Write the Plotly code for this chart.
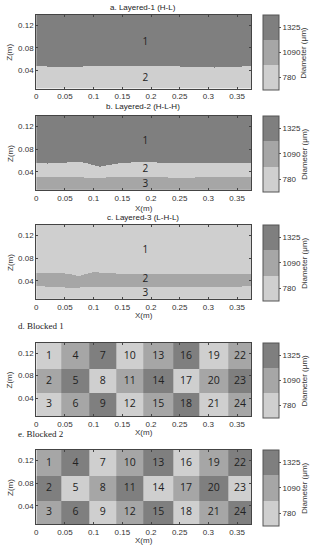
import numpy as np
import plotly.graph_objects as go

W, H = 314, 550

# ---------------- data ----------------
level_labels = ['780', '1090', '1325']          # 0 = light, 1 = mid, 2 = dark
level_colors = ['#cfcfcf', '#a6a6a6', '#7f7f7f']

x_tickvals = [0, 0.05, 0.1, 0.15, 0.2, 0.25, 0.3, 0.35]
x_ticktext = ['0', '0.05', '0.1', '0.15', '0.2', '0.25', '0.3', '0.35']
z_tickvals = [0.04, 0.08, 0.12]
z_ticktext = ['0.04', '0.08', '0.12']
x_range = [0, 0.375]
z_range = [0.008, 0.138]

titles = ['a. Layered-1 (H-L)', 'b. Layered-2 (H-L-H)', 'c. Layered-3 (L-H-L)',
          'd. Blocked 1', 'e. Blocked 2']

# Layered-1: layers top->bottom, one interface
l1_x = [0, 0.02, 0.05, 0.08, 0.1, 0.13, 0.16, 0.19, 0.22, 0.25, 0.28, 0.31, 0.34, 0.375]
l1_b1 = [0.0475, 0.047, 0.0455, 0.047, 0.048, 0.0475, 0.047, 0.0475, 0.048, 0.047, 0.047, 0.0455, 0.0465, 0.0475]
l1_levels = [2, 0]
l1_label_z = [0.090, 0.025]

# Layered-2
l2_x = [0, 0.02, 0.04, 0.06, 0.075, 0.09, 0.11, 0.13, 0.15, 0.18, 0.21, 0.25, 0.3, 0.34, 0.375]
l2_b1 = [0.055, 0.054, 0.055, 0.0565, 0.0575, 0.054, 0.0485, 0.052, 0.0555, 0.0565, 0.056, 0.055, 0.055, 0.0545, 0.0545]
l2_b2 = [0.030, 0.031, 0.030, 0.030, 0.030, 0.029, 0.029, 0.030, 0.030, 0.030, 0.030, 0.029, 0.030, 0.030, 0.031]
l2_levels = [2, 0, 1]
l2_label_z = [0.094, 0.0445, 0.0175]

# Layered-3
l3_x = [0, 0.03, 0.05, 0.065, 0.075, 0.085, 0.1, 0.12, 0.15, 0.2, 0.25, 0.3, 0.34, 0.375]
l3_b1 = [0.053, 0.053, 0.0525, 0.050, 0.048, 0.0515, 0.0545, 0.0535, 0.052, 0.052, 0.0525, 0.052, 0.0525, 0.0525]
l3_b2 = [0.030, 0.029, 0.028, 0.028, 0.028, 0.029, 0.029, 0.029, 0.029, 0.0285, 0.029, 0.029, 0.029, 0.030]
l3_levels = [0, 1, 0]
l3_label_z = [0.093, 0.0415, 0.0185]

layer_label_x = 0.19

# Blocked panels: 3 rows (top->bottom) x 8 columns, numbered column-major
block_x_edges = [0, 0.044, 0.093, 0.139, 0.187, 0.238, 0.284, 0.335, 0.375]
block_z_edges = [0.008, 0.049, 0.092, 0.138]
blocked1 = [  # rows top, middle, bottom
    [0, 1, 2, 0, 1, 2, 0, 1],
    [1, 2, 0, 1, 2, 0, 1, 2],
    [0, 1, 2, 0, 1, 2, 0, 1],
]
blocked2 = [
    [1, 2, 0, 1, 2, 0, 1, 2],
    [2, 0, 1, 2, 0, 1, 2, 0],
    [1, 2, 0, 1, 2, 0, 1, 2],
]

# ---------------- layout geometry (pixels) ----------------
plot_left, plot_right = 34.5, 251
panel_tops = [15, 116, 225, 343, 450]
panel_bots = [88.5, 190, 299, 416, 524]
cb_left, cb_thick = 263, 16

def py(p):
    return 1 - p / H

def px(p):
    return p / W

colorscale = [[0, level_colors[0]], [1/3, level_colors[0]],
              [1/3, level_colors[1]], [2/3, level_colors[1]],
              [2/3, level_colors[2]], [1, level_colors[2]]]

fig = go.Figure()

def layered_grid(bx, bounds, levels):
    xs = np.linspace(x_range[0], x_range[1], 376)
    zs = np.linspace(z_range[0], z_range[1], 261)
    bvals = [np.interp(xs, bx, b) for b in bounds]
    Z = np.full((len(zs), len(xs)), levels[-1], dtype=float)
    for i in range(len(bounds) - 1, -1, -1):
        mask = zs[:, None] >= bvals[i][None, :]
        Z[mask] = levels[i]
    return xs, zs, Z

layered = [
    (l1_x, [l1_b1], l1_levels, l1_label_z),
    (l2_x, [l2_b1, l2_b2], l2_levels, l2_label_z),
    (l3_x, [l3_b1, l3_b2], l3_levels, l3_label_z),
]

tick_font = dict(family='Liberation Sans, Arial, sans-serif', size=8, color='#333')
num_font = dict(family='Open Sans, sans-serif', size=10, color='#222')

def colorbar_for(k):
    top, bot = panel_tops[k], panel_bots[k] + 1.5
    return dict(
        x=px(cb_left), xanchor='left', xpad=0,
        y=py((top + bot) / 2), yanchor='middle', ypad=0,
        len=(bot - top) / H, lenmode='fraction',
        thickness=cb_thick, thicknessmode='pixels',
        outlinewidth=1, outlinecolor='#555',
        tickvals=[0, 1, 2], ticktext=level_labels,
        ticks='outside', ticklen=2, tickcolor='#555',
        tickfont=tick_font,
    )

for k in range(5):
    xa = 'x' if k == 0 else f'x{k+1}'
    ya = 'y' if k == 0 else f'y{k+1}'
    if k < 3:
        bx, bounds, levels, lab_z = layered[k]
        xs, zs, Z = layered_grid(bx, bounds, levels)
        fig.add_trace(go.Heatmap(x=xs, y=zs, z=Z, colorscale=colorscale, zmin=-0.5, zmax=2.5,
                                 xaxis=xa, yaxis=ya, colorbar=colorbar_for(k), hoverinfo='skip'))
        fig.add_trace(go.Scatter(x=[layer_label_x] * len(lab_z), y=lab_z, mode='text',
                                 text=[str(i + 1) for i in range(len(lab_z))],
                                 textfont=num_font, xaxis=xa, yaxis=ya,
                                 showlegend=False, hoverinfo='skip'))
    else:
        blk = blocked1 if k == 3 else blocked2
        zgrid = blk[::-1]
        fig.add_trace(go.Heatmap(x=block_x_edges, y=block_z_edges, z=zgrid,
                                 colorscale=colorscale, zmin=-0.5, zmax=2.5,
                                 xaxis=xa, yaxis=ya, colorbar=colorbar_for(k), hoverinfo='skip'))
        tx, tz, tt = [], [], []
        n = 1
        for c in range(8):
            for r in range(3):
                tx.append((block_x_edges[c] + block_x_edges[c + 1]) / 2)
                tz.append((block_z_edges[2 - r] + block_z_edges[3 - r]) / 2)
                tt.append(str(n))
                n += 1
        fig.add_trace(go.Scatter(x=tx, y=tz, mode='text', text=tt,
                                 textfont=dict(num_font, size=10.5),
                                 xaxis=xa, yaxis=ya, showlegend=False, hoverinfo='skip'))

    axis_common = dict(showline=True, linecolor='#444', linewidth=1, mirror='ticks',
                       ticks='inside', ticklen=2, tickcolor='#444', showgrid=False,
                       zeroline=False, tickfont=tick_font, fixedrange=True)
    fig.layout[('xaxis' if k == 0 else f'xaxis{k+1}')] = dict(
        domain=[px(plot_left), px(plot_right)], range=x_range, anchor=ya,
        tickvals=x_tickvals, ticktext=x_ticktext, **axis_common)
    fig.layout[('yaxis' if k == 0 else f'yaxis{k+1}')] = dict(
        domain=[py(panel_bots[k]), py(panel_tops[k])], range=z_range, anchor=xa,
        tickvals=z_tickvals, ticktext=z_ticktext, **axis_common)

annotations = []
label_font = dict(family='Liberation Sans, Arial, sans-serif', size=8, color='#333')
title_font_sans = dict(family='Liberation Sans, Arial, sans-serif', size=8, color='#222')
title_font_serif = dict(family='Liberation Serif, Times New Roman, serif', size=9, color='#222')
title_y = [8, 106.5, 217, 326, 434]
xlab_off = [16, 18, 16, 16, 16]
for k in range(5):
    mid = (panel_tops[k] + panel_bots[k]) / 2
    annotations.append(dict(x=px(8), y=py(mid), xref='paper', yref='paper', text='Z(m)',
                            textangle=-90, showarrow=False, font=label_font,
                            xanchor='center', yanchor='middle'))
    annotations.append(dict(x=px(304), y=py(mid + 1), xref='paper', yref='paper',
                            text='Diameter (μm)', textangle=-90, showarrow=False,
                            font=label_font, xanchor='center', yanchor='middle'))
    if k > 0:
        annotations.append(dict(x=px((plot_left + plot_right) / 2), y=py(panel_bots[k] + xlab_off[k]),
                                xref='paper', yref='paper', text='X(m)', showarrow=False,
                                font=label_font, xanchor='center', yanchor='middle'))
    if k < 3:
        annotations.append(dict(x=px(142), y=py(title_y[k]), xref='paper', yref='paper',
                                text=titles[k], showarrow=False, font=title_font_sans,
                                xanchor='center', yanchor='middle'))
    else:
        annotations.append(dict(x=px(14), y=py(title_y[k]), xref='paper', yref='paper',
                                text=titles[k], showarrow=False, font=title_font_serif,
                                xanchor='left', yanchor='middle'))

fig.update_layout(width=W, height=H, margin=dict(l=0, r=0, t=0, b=0),
                  paper_bgcolor='white', plot_bgcolor='white', showlegend=False,
                  annotations=annotations)

fig.write_html('out.html', config={'displayModeBar': False},
               post_script="document.body.style.margin='0';document.body.style.overflow='hidden';")
